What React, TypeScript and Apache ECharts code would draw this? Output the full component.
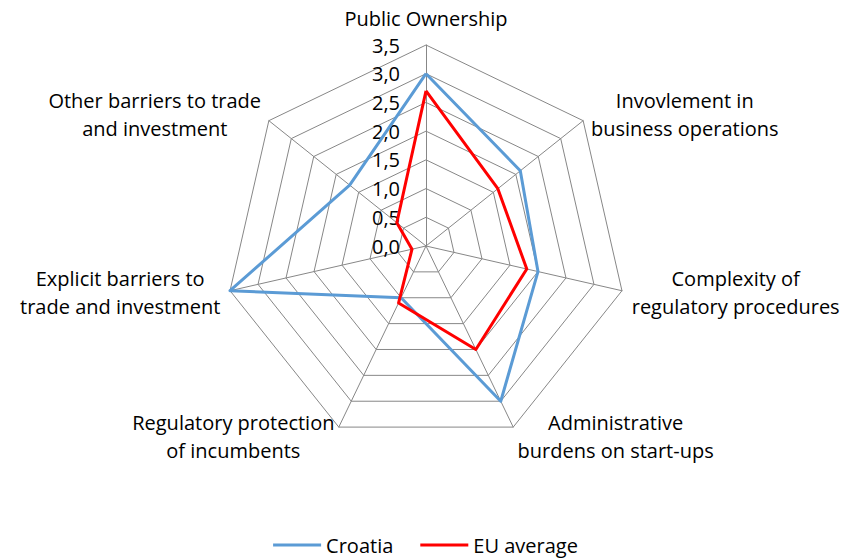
import React, { useEffect, useRef } from "react";
import * as echarts from "echarts";

const INDICATORS = [
  "Public Ownership",
  "Invovlement in\nbusiness operations",
  "Complexity of\nregulatory procedures",
  "Administrative\nburdens on start-ups",
  "Regulatory protection\nof incumbents",
  "Explicit barriers to\ntrade and investment",
  "Other barriers to trade\nand investment",
];
const CROATIA = [3.0, 2.1, 2.0, 3.0, 1.0, 3.5, 1.7];
const EU_AVERAGE = [2.7, 1.6, 1.8, 2.0, 1.1, 0.25, 0.65];
const TICK_LABELS = ["0,0", "0,5", "1,0", "1,5", "2,0", "2,5", "3,0", "3,5"];
const AXIS_MAX = 3.5;
const SERIES_NAMES = ["Croatia", "EU average"];

const FONT = "'Open Sans', 'Noto Sans', sans-serif";

// ECharts lays radar axes out counter-clockwise; the reference runs clockwise,
// so keep the first axis and reverse the rest.
const ORDER = [0, ...INDICATORS.map((_, i) => i).slice(1).reverse()];
const reorder = <T,>(arr: T[]) => ORDER.map((i) => arr[i]);

export default function App() {
  const ref = useRef<HTMLDivElement>(null);
  useEffect(() => {
    if (!ref.current) return;
    const chart = echarts.init(ref.current, undefined, { renderer: "svg" });
    chart.setOption({
      animation: false,
      backgroundColor: "#ffffff",
      legend: {
        data: SERIES_NAMES,
        bottom: 0,
        left: "center",
        icon: "rect",
        itemWidth: 48,
        itemHeight: 3,
        itemGap: 27,
        textStyle: { fontFamily: FONT, fontSize: 20, color: "#000" },
      },
      radar: {
        center: [426, 246],
        radius: 201,
        shape: "polygon",
        splitNumber: 7,
        startAngle: 90,
        indicator: reorder(INDICATORS).map((name, i) => ({
          name,
          min: 0,
          max: AXIS_MAX,
          ...(i === 0 ? { axisLabel: { show: true }, nameGap: 13 } : {}),
        })),
        axisName: {
          color: "#000",
          fontFamily: FONT,
          fontSize: 20,
          lineHeight: 28,
          formatter: (name: string) =>
            name
              .split("\n")
              .map((l) => `{c|${l}}`)
              .join("\n"),
          rich: {
            c: {
              align: "center",
              fontFamily: FONT,
              fontSize: 20,
              lineHeight: 28,
              color: "#000",
            },
          },
        },
        nameGap: 10,
        axisLine: { lineStyle: { color: "#878787", width: 1 } },
        splitLine: { lineStyle: { color: "#878787", width: 1 } },
        splitArea: { show: false },
        axisTick: { show: false },
        axisLabel: {
          show: false,
          color: "#000",
          fontFamily: FONT,
          fontSize: 20,
          lineHeight: 18,
          margin: 26,
          formatter: (v: number) => {
            const idx = Math.round((v / AXIS_MAX) * (TICK_LABELS.length - 1));
            return TICK_LABELS[idx] ?? "";
          },
        },
      },
      series: [
        {
          type: "radar",
          symbol: "none",
          data: [
            {
              name: SERIES_NAMES[0],
              value: reorder(CROATIA),
              lineStyle: { color: "#5B9BD5", width: 3 },
              itemStyle: { color: "#5B9BD5" },
            },
            {
              name: SERIES_NAMES[1],
              value: reorder(EU_AVERAGE),
              lineStyle: { color: "#FF0000", width: 3 },
              itemStyle: { color: "#FF0000" },
            },
          ],
        },
      ],
    });
    return () => chart.dispose();
  }, []);
  return (
    <div
      ref={ref}
      style={{ position: "fixed", left: 0, top: 0, width: 851, height: 560 }}
    />
  );
}
